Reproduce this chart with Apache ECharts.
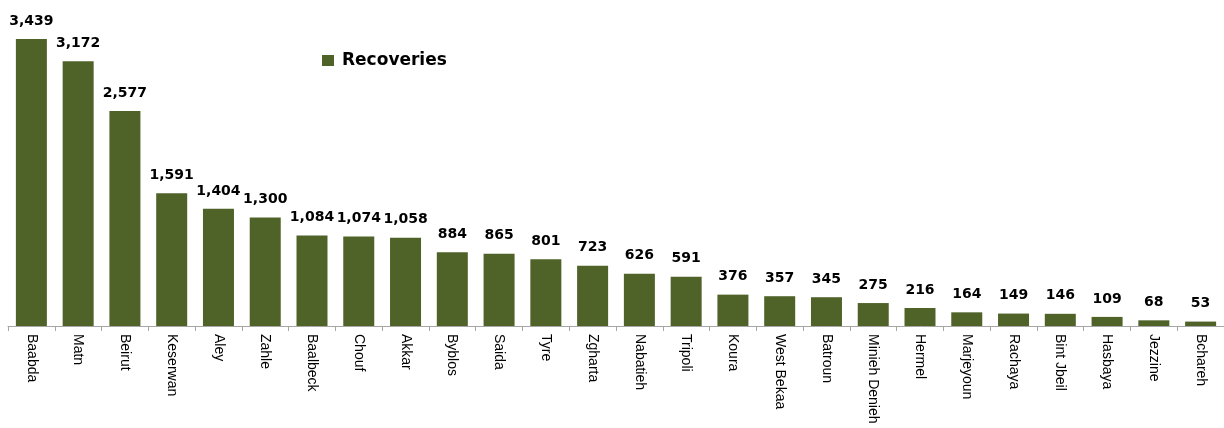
<!DOCTYPE html>
<html>
<head>
<meta charset="utf-8">
<script src="https://cdn.jsdelivr.net/npm/echarts@6/dist/echarts.min.js"></script>
<style>
html,body{margin:0;padding:0;background:#fff;}
#c{width:1224px;height:428px;}
</style>
</head>
<body>
<div id="c"></div>
<script>
var categories = ["Baabda","Matn","Beirut","Keserwan","Aley","Zahle","Baalbeck","Chouf","Akkar","Byblos","Saida","Tyre","Zgharta","Nabatieh","Tripoli","Koura","West Bekaa","Batroun","Minieh Denieh","Hermel","Marjeyoun","Rachaya","Bint Jbeil","Hasbaya","Jezzine","Bchareh"];
var recoveries = [3439,3172,2577,1591,1404,1300,1084,1074,1058,884,865,801,723,626,591,376,357,345,275,216,164,149,146,109,68,53];
var seriesName = "Recoveries";

var chart = echarts.init(document.getElementById('c'));
chart.setOption({
  animation: false,
  backgroundColor: '#ffffff',
  legend: {
    data: [seriesName],
    left: 322,
    top: 52,
    padding: 0,
    itemWidth: 12,
    itemHeight: 11,
    icon: 'rect',
    textStyle: {fontFamily: 'DejaVu Sans', fontWeight: 'bold', fontSize: 17, color: '#000', padding: [0,0,0,3]}
  },
  grid: {left: 8, top: 34, width: 1224, bottom: 102, containLabel: false},
  xAxis: {
    type: 'category',
    data: categories,
    axisLine: {lineStyle: {color: '#a6a6a6', width: 1}},
    axisTick: {show: true, length: 5, lineStyle: {color: '#a6a6a6'}},
    axisLabel: {
      rotate: -90,
      interval: 0,
      margin: 8,
      color: '#000',
      fontFamily: 'Liberation Sans',
      fontSize: 14
    }
  },
  yAxis: {
    type: 'value',
    min: 0,
    max: 3500,
    show: false,
    splitLine: {show: false}
  },
  series: [{
    name: seriesName,
    type: 'bar',
    data: recoveries,
    barWidth: 31,
    itemStyle: {color: '#4f6228'},
    label: {
      show: true,
      position: 'top',
      distance: 11,
      color: '#000',
      fontFamily: 'DejaVu Sans',
      fontWeight: 'bold',
      fontSize: 14,
      formatter: function (p) { return p.value.toLocaleString('en-US'); }
    }
  }]
});
</script>
</body>
</html>
